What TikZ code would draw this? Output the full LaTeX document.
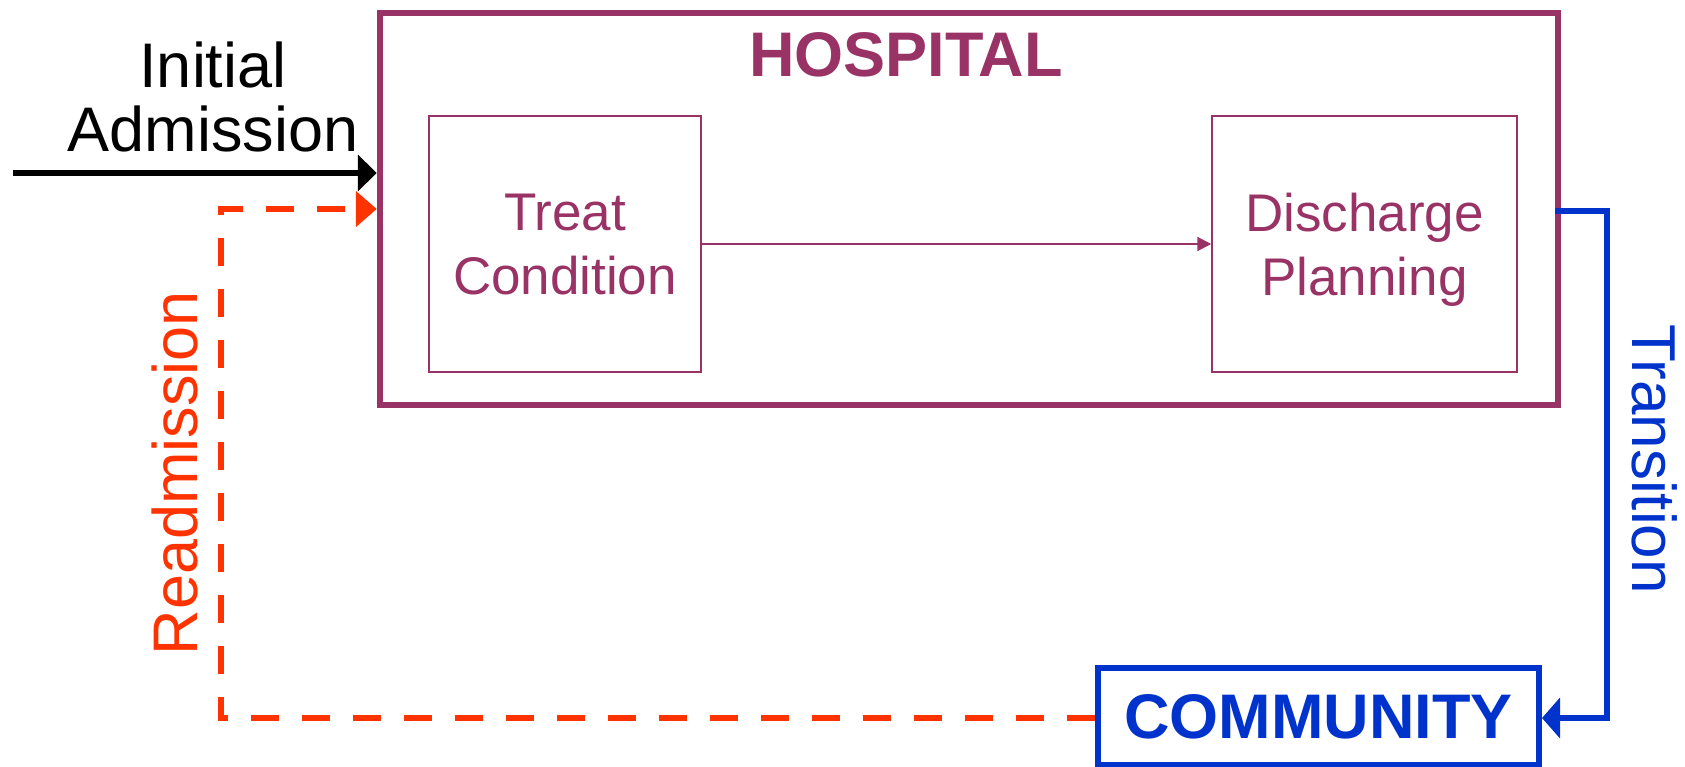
\documentclass[tikz,border=0pt]{standalone}
\usepackage{fontspec}
\setmainfont{Liberation Sans}
\usetikzlibrary{arrows.meta}
\definecolor{hosp}{HTML}{993366}
\definecolor{readm}{HTML}{FF3300}
\definecolor{comm}{HTML}{0033CC}
\tikzset{
  bigtext/.style={font=\fontsize{63}{64}\selectfont},
  midtext/.style={font=\fontsize{53}{64}\selectfont},
  hospbox/.style={draw=hosp, line width=6.5pt, minimum width=1178pt, minimum height=392pt, inner sep=0pt},
  stagebox/.style={draw=hosp, line width=1.5pt, text=hosp, midtext, align=center, inner sep=0pt, text depth=0pt},
  commbox/.style={draw=comm, line width=6pt, text=comm, bigtext, font=\fontsize{63}{64}\selectfont\bfseries, minimum width=441pt, minimum height=97pt, inner sep=0pt},
  flowline/.style={line width=6pt},
  readmline/.style={readm, line width=6pt, dash pattern=on 28pt off 23pt},
}
\begin{document}
\begin{tikzpicture}[x=1pt,y=-1pt]
\useasboundingbox (0,0) rectangle (1685,767);

% hospital and its two stages
\node[hospbox] (hospital) at (969,209) {};
\node[text=hosp, font=\fontsize{63}{64}\selectfont\bfseries, anchor=base] (hosplabel) at (906,77) {HOSPITAL};
\node[stagebox, minimum width=272pt, minimum height=256pt] (treat) at (565,244) {Treat\\Condition};
\node[stagebox, minimum width=305pt, minimum height=256pt] (discharge) at (1364.5,244) {Discharge\\Planning};
\draw[hosp, line width=2pt, -{Triangle[length=14pt,width=14pt]}] (treat) -- (discharge);

% community
\node[commbox] (community) at (1318.5,716.5) {COMMUNITY};

% initial admission
\coordinate (start) at (13,173);
\node[bigtext, align=center] (initlabel) at (213,97) {Initial\\Admission};
\draw[flowline, -{Triangle[length=19pt,width=36pt]}] (start) -- (start -| hospital.west);

% readmission loop
\coordinate (rcornerA) at (221,718);
\coordinate (rcornerB) at (221,209);
\draw[readmline, -{Triangle[length=21pt,width=35pt]}] (community.west |- 0,718) -- (rcornerA) -- (rcornerB) -- (rcornerB -| hospital.west);
\node[text=readm, bigtext, rotate=90] (readmlabel) at (175,473) {Readmission};

% transition to community
\coordinate (tstart) at (1555,211);
\coordinate (tcornerA) at (1607,211);
\coordinate (tcornerB) at (1607,718);
\draw[comm, line width=6pt, -{Triangle[length=18pt,width=40pt]}] (tstart) -- (tcornerA) -- (tcornerB) -- (tcornerB -| community.east);
\node[text=comm, font=\fontsize{62}{64}\selectfont, rotate=-90] (translabel) at (1655,459) {Transition};
\end{tikzpicture}
\end{document}
